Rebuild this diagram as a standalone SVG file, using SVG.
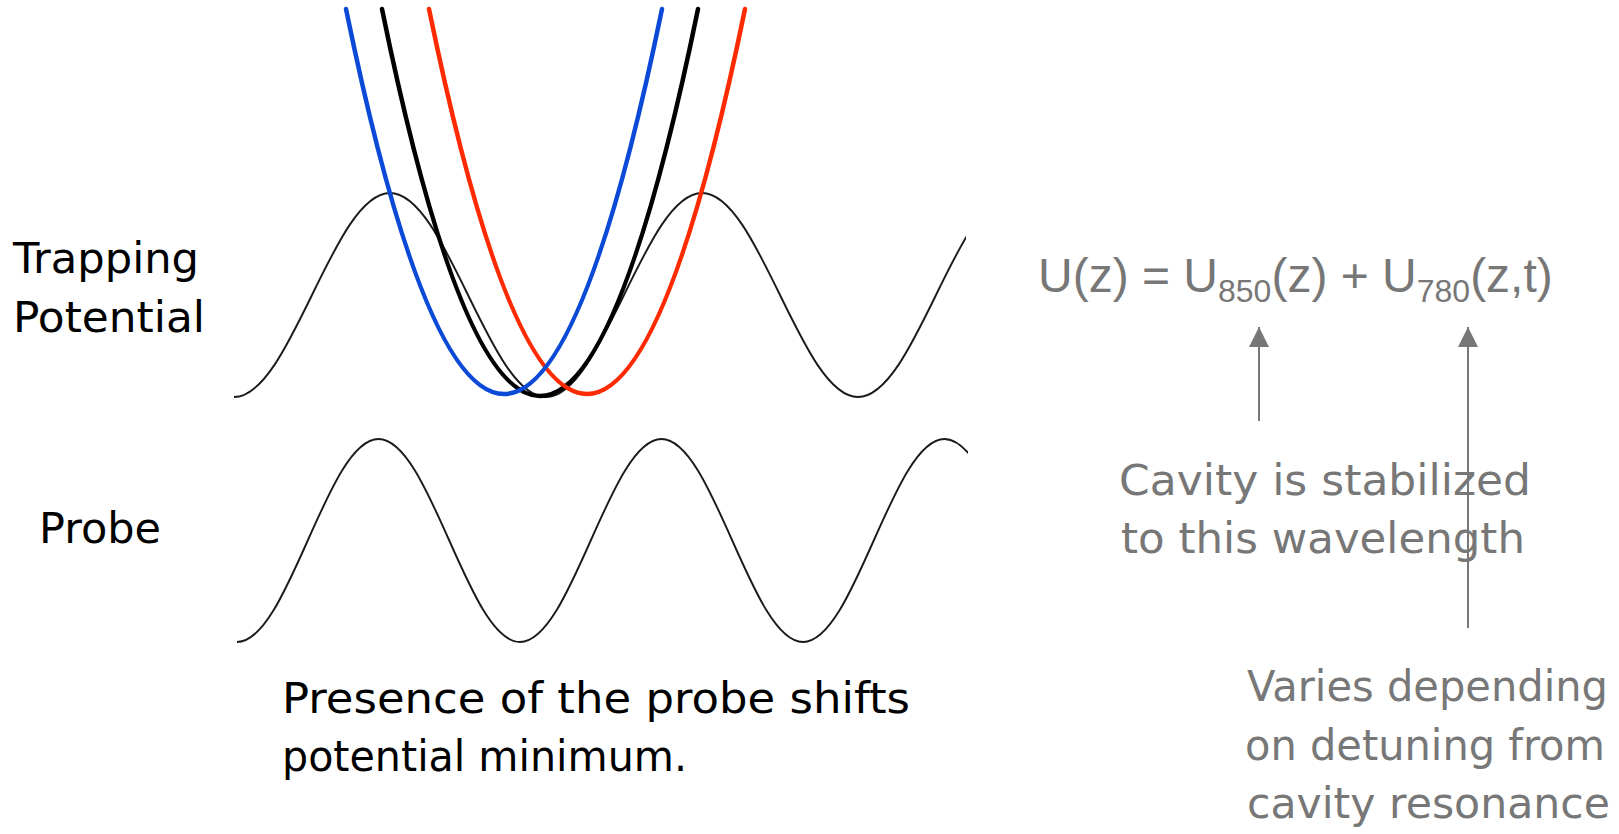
<svg xmlns="http://www.w3.org/2000/svg" width="1619" height="834" viewBox="0 0 1619 834">
<style>
.hand{font-family:"DejaVu Sans","Liberation Sans",sans-serif;font-size:42px;}
.blk{fill:#000;}
.gry{fill:#777;}
.eq{font-family:"Liberation Sans",Arial,sans-serif;font-size:48px;fill:#777;}
.sub{font-size:32px;}
.sine{fill:none;stroke:#1a1a1a;stroke-width:1.9;}
.para{fill:none;stroke-width:4.5;stroke-linecap:round;}
.arr{stroke:#777;stroke-width:2;fill:none;}
</style>
<defs>
<marker id="ah" markerWidth="20" markerHeight="20" refX="20" refY="10" orient="auto" markerUnits="userSpaceOnUse" viewBox="0 0 20 20">
<path d="M0,0 L20,10 L0,20 Z" fill="#777"/>
</marker>
<clipPath id="clipTrap"><rect x="228" y="150" width="738" height="260"/></clipPath>
<clipPath id="clipProbe"><rect x="228" y="420" width="740" height="240"/></clipPath>
</defs>
<rect width="1619" height="834" fill="#fff"/>

<g id="label-trapping">
<text class="hand blk" x="13" y="273" textLength="186" lengthAdjust="spacingAndGlyphs">Trapping</text>
<text class="hand blk" x="13" y="332" textLength="192" lengthAdjust="spacingAndGlyphs">Potential</text>
</g>
<g id="label-probe">
<text class="hand blk" x="39" y="543" textLength="122" lengthAdjust="spacingAndGlyphs">Probe</text>
</g>

<g id="trap-wave">
<path class="sine" clip-path="url(#clipTrap)" d="M234,397 C290.7,397 333.3,193 390,193 C446.7,193 489.3,397 546,397 C602.7,397 645.3,193 702,193 C758.7,193 801.3,397 858,397 C914.7,397 957.3,193 1014,193"/>
</g>

<g id="parabolas">
<path class="para" stroke="#000" d="M382,9 Q540,783 698,9"/>
<path class="para" stroke="#ff2a00" d="M429,9 Q587,779 745,9"/>
<path class="para" stroke="#0a4ad6" d="M346,9 Q504,779 662,9"/>
</g>

<g id="probe-wave">
<path class="sine" clip-path="url(#clipProbe)" d="M237,642 C288.4,642 327.1,439 378.5,439 C429.9,439 468.6,642 520,642 C571.4,642 610.1,439 661.5,439 C712.9,439 751.6,642 803,642 C854.4,642 893.1,439 944.5,439 C995.9,439 1034.6,642 1086,642"/>
</g>

<g id="caption">
<text class="hand blk" x="282" y="713" textLength="628" lengthAdjust="spacingAndGlyphs">Presence of the probe shifts</text>
<text class="hand blk" x="282" y="771" textLength="405" lengthAdjust="spacingAndGlyphs">potential minimum.</text>
</g>

<g id="equation">
<text class="eq" x="1038" y="292">U(z) = U<tspan class="sub" dy="10">850</tspan><tspan dy="-10">(z) + U</tspan><tspan class="sub" dy="10">780</tspan><tspan dy="-10">(z,t)</tspan></text>
</g>

<g id="note-stabilized">
<text class="hand gry" x="1119" y="495" textLength="412" lengthAdjust="spacingAndGlyphs">Cavity is stabilized</text>
<text class="hand gry" x="1121" y="553" textLength="404" lengthAdjust="spacingAndGlyphs">to this wavelength</text>
</g>

<g id="note-varies">
<text class="hand gry" x="1247" y="701" textLength="361" lengthAdjust="spacingAndGlyphs">Varies depending</text>
<text class="hand gry" x="1245" y="760" textLength="360" lengthAdjust="spacingAndGlyphs">on detuning from</text>
<text class="hand gry" x="1247" y="818" textLength="363" lengthAdjust="spacingAndGlyphs">cavity resonance</text>
</g>

<g id="connectors">
<path class="arr" d="M1259,421 L1259,327" marker-end="url(#ah)"/>
<path class="arr" d="M1468,628 L1468,327" marker-end="url(#ah)"/>
</g>
</svg>
